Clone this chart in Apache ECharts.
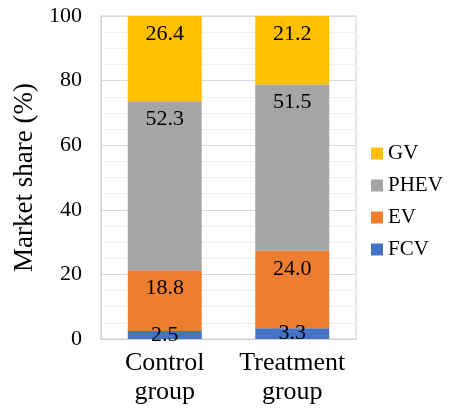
<!DOCTYPE html>
<html><head><meta charset="utf-8">
<script src="https://cdn.jsdelivr.net/npm/echarts@6/dist/echarts.min.js"></script>
<style>html,body{margin:0;padding:0;background:#fff}#c{width:452px;height:408px}</style>
</head><body><div id="c"></div>
<script>
const categories = ['Control\ngroup', 'Treatment\ngroup'];
const FCV = [2.5, 3.3];
const EV = [18.8, 24.0];
const PHEV = [52.3, 51.5];
const GV = [26.4, 21.2];
const yTicks = [0, 20, 40, 60, 80, 100];

const font = 'Liberation Serif, Times New Roman, serif';
function ser(name, data, color, pos) {
  return {
    name, type: 'bar', stack: 's', data, barWidth: '58%',
    itemStyle: { color },
    label: { show: true, position: pos, distance: 7, color: '#000', fontFamily: font, fontSize: 22,
      formatter: p => p.value.toFixed(1) }
  };
}
const chart = echarts.init(document.getElementById('c'));
chart.setOption({
  animation: false,
  textStyle: { fontFamily: font },
  grid: { left: 101, right: 96, top: 16, bottom: 69, show: true, borderColor: '#d0d0d0', borderWidth: 1 },
  legend: {
    orient: 'vertical', left: 366, top: 138, itemGap: 11, itemWidth: 12, itemHeight: 12,
    icon: 'rect', data: ['GV', 'PHEV', 'EV', 'FCV'],
    textStyle: { fontFamily: font, fontSize: 21, color: '#000' }
  },
  xAxis: {
    type: 'category', data: categories,
    axisLine: { lineStyle: { color: '#d0d0d0' } }, axisTick: { show: false },
    axisLabel: { interval: 0, hideOverlap: false, fontFamily: font, fontSize: 26, color: '#000', lineHeight: 29, margin: 10 }
  },
  yAxis: {
    type: 'value', min: 0, max: 100, interval: 20,
    name: 'Market share (%)', nameLocation: 'middle', nameGap: 56,
    nameTextStyle: { fontFamily: font, fontSize: 27, color: '#000' },
    axisLine: { show: true, lineStyle: { color: '#d0d0d0' } }, axisTick: { show: false },
    axisLabel: { fontFamily: font, fontSize: 22, color: '#000', margin: 19,
      formatter: v => yTicks.includes(v) ? String(v) : '' },
    splitLine: { lineStyle: { color: '#d9d9d9' } },
    minorTick: { show: false, splitNumber: 4 },
    minorSplitLine: { show: true, lineStyle: { color: '#efefef' } }
  },
  series: [
    ser('FCV', FCV, '#4472C4', 'inside'),
    ser('EV', EV, '#ED7D31', 'insideTop'),
    ser('PHEV', PHEV, '#A5A5A5', 'insideTop'),
    ser('GV', GV, '#FFC000', 'insideTop')
  ]
});
</script></body></html>
